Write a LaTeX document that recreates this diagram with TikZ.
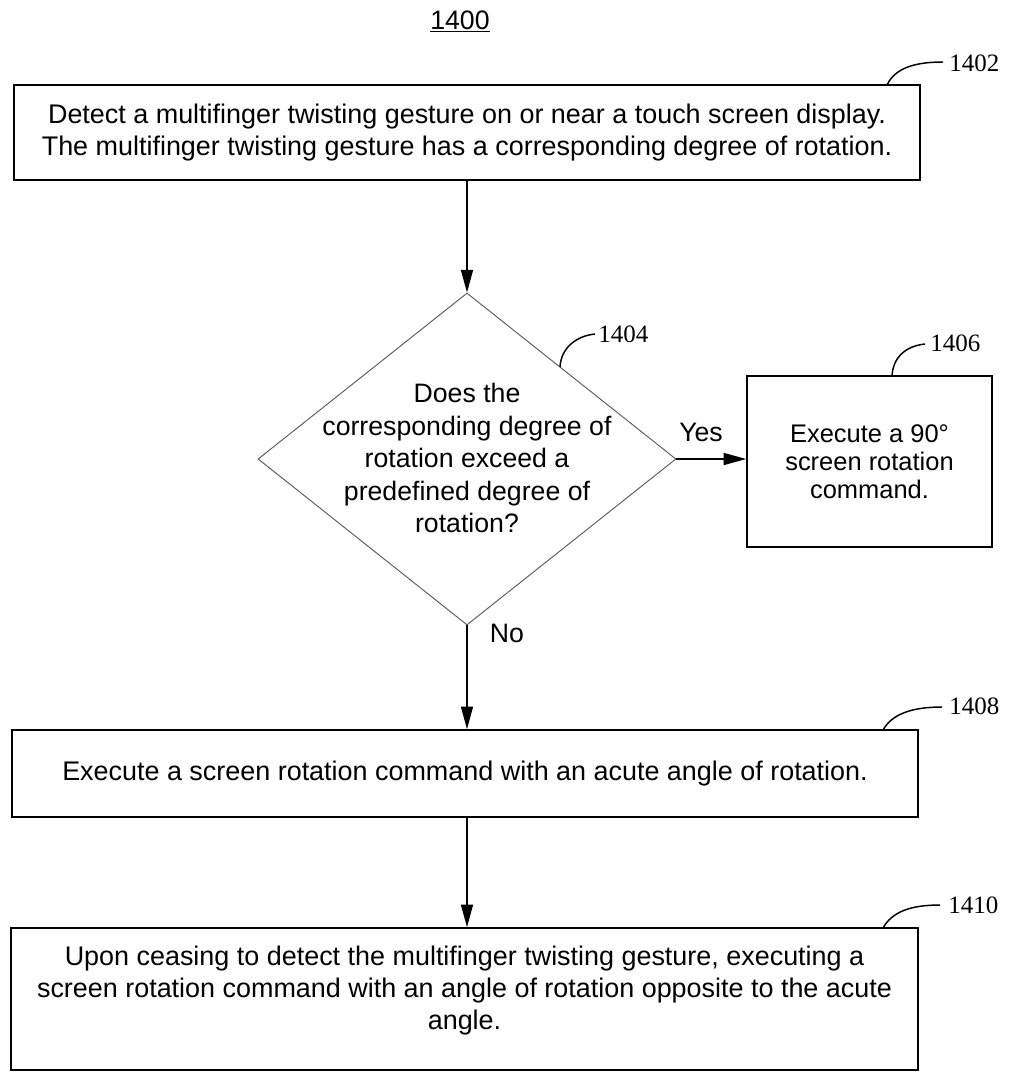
\documentclass[tikz,border=0pt]{standalone}
\usepackage{fontspec}
\setmainfont{Liberation Sans}
\newfontfamily\reffont{Liberation Serif}
\usetikzlibrary{shapes.geometric,arrows.meta}
\begin{document}
\begin{tikzpicture}[x=0.75pt,y=-0.75pt,
  box/.style={draw, line width=1.2pt, inner sep=0pt, align=center},
  flow/.style={-{Triangle[length=17pt,width=9pt]}, line width=1.2pt},
  lead/.style={line width=1.1pt},
  reflabel/.style={font=\reffont\fontsize{18.75}{20}\selectfont, anchor=west, inner sep=0pt},
  bodya/.style={font=\fontsize{20.2}{23.8}\selectfont},
  bodyd/.style={align=center, inner sep=0pt, font=\fontsize{20}{24.4}\selectfont},
  bodyb/.style={font=\fontsize{19.1}{20.8}\selectfont},
  bodyc/.style={font=\fontsize{20.2}{24}\selectfont},
  branch/.style={font=\fontsize{20}{22}\selectfont, inner sep=0pt}
]
\useasboundingbox (0,0) rectangle (1008,1072);

% title
\node[anchor=base, inner sep=0pt, font=\fontsize{20}{22}\selectfont] (title) at (460,29) {\underline{1400}};

% boxes
\node[box, bodya, minimum width=679.5pt, minimum height=71.25pt] (b1) at (467,132.5)
  {Detect a multifinger twisting gesture on or near a touch screen display.\\The multifinger twisting gesture has a corresponding degree of rotation.};

\node[draw=black!65, line width=0.7pt, diamond, minimum width=313.5pt, minimum height=249pt, inner sep=0pt] (d1) at (467,459) {};
\node[bodyd] (d1t) at (467,458) {Does the\\corresponding degree of\\rotation exceed a\\predefined degree of\\rotation?};

\node[box, bodyb, minimum width=183.75pt, minimum height=128.25pt] (b2) at (869.5,461.5)
  {Execute a 90°\\screen rotation\\command.};

\node[box, bodya, minimum width=679.5pt, minimum height=65.25pt] (b3) at (465,773.5)
  {Execute a screen rotation command with an acute angle of rotation.};

\node[box, minimum width=680.25pt, minimum height=106.5pt] (b4) at (464.5,999) {};
\node[bodyc, align=center, inner sep=0pt] (b4t) at (464.5,991)
  {Upon ceasing to detect the multifinger twisting gesture, executing a\\screen rotation command with an angle of rotation opposite to the acute\\angle.};

% flow arrows
\draw[flow] (b1.south -| d1.north) -- (d1.north);
\draw[flow] (d1.south) -- (d1.south |- b3.north);
\draw[flow] (d1.south |- b3.south) -- (d1.south |- b4.north);
\draw[flow] (d1.east) -- (d1.east -| b2.west);

% branch labels
\node[branch] (yes) at (701,432) {Yes};
\node[branch] (no) at (507,633) {No};

% reference labels and leaders
\coordinate (l1s) at (887,85);
\coordinate (l1e) at (943,62);
\node[reflabel] (r1402) at (949,63) {1402};
\draw[lead] (l1s) .. controls (895,68) and (915,62) .. (l1e);

\coordinate (l2s) at (560,367);
\coordinate (l2e) at (595,334);
\node[reflabel] (r1404) at (598,334) {1404};
\draw[lead] (l2s) .. controls (561,348) and (576,336) .. (l2e);

\coordinate (l3s) at (892,376);
\coordinate (l3e) at (925,344);
\node[reflabel] (r1406) at (930,343) {1406};
\draw[lead] (l3s) .. controls (893,357) and (906,346) .. (l3e);

\coordinate (l4s) at (883,730);
\coordinate (l4e) at (942,707);
\node[reflabel] (r1408) at (949,706) {1408};
\draw[lead] (l4s) .. controls (892,714) and (912,707) .. (l4e);

\coordinate (l5s) at (883,928);
\coordinate (l5e) at (940,905);
\node[reflabel] (r1410) at (948,905) {1410};
\draw[lead] (l5s) .. controls (892,912) and (910,905) .. (l5e);
\end{tikzpicture}
\end{document}
